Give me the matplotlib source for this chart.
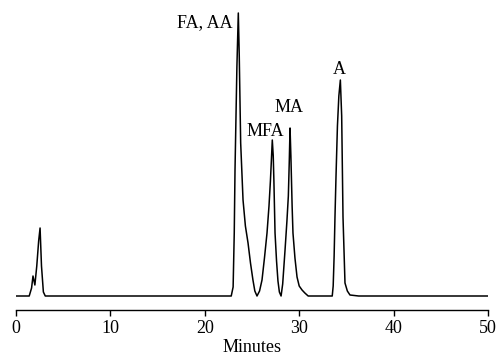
import matplotlib
matplotlib.use("Agg")
import matplotlib.pyplot as plt

# Trace (minutes, detector response in arbitrary units)
minutes = [0.0, 1.4, 1.65, 1.8, 2.0, 2.2, 2.4, 2.55, 2.7, 2.9, 3.1,
           22.8, 23.0, 23.12, 23.2, 23.4, 23.55, 23.65, 23.8, 24.05, 24.3, 24.58,
           24.84, 25.1, 25.3, 25.53,
           25.8, 26.06, 26.32, 26.59, 26.8, 26.95, 27.05, 27.15, 27.25, 27.32,
           27.44, 27.6, 27.75, 27.9, 28.08,
           28.25, 28.5, 28.7, 28.85, 28.95, 29.03, 29.12, 29.25, 29.34, 29.55,
           29.77, 30.0, 30.3, 30.6, 30.95,
           33.5, 33.6, 33.7, 33.79, 33.9, 34.05, 34.2, 34.36, 34.5, 34.64,
           34.85, 35.1, 35.38, 36.3,
           50.0]
response = [0, 0, 8, 20, 11, 30, 55, 68, 30, 4, 0,
            0, 9, 63, 126, 229, 283, 240, 153, 96, 70, 53,
            33, 16, 5, 0,
            5, 16, 38, 63, 90, 115, 135, 156, 140, 115,
            63, 35, 15, 4, 0,
            12, 46, 75, 100, 135, 168, 140, 90, 63, 38,
            19, 10, 6, 3, 0,
            0, 10, 40, 79, 120, 170, 200, 216, 180, 79,
            13, 5, 1, 0,
            0]

# Peak labels
peak_names = ["FA, AA", "MFA", "MA", "A"]
label_x = [22.9, 26.4, 28.9, 34.3]
label_y = [273, 164, 188, 227]
label_ha = ["right", "center", "center", "center"]

plt.rcParams["font.family"] = ["Liberation Serif", "DejaVu Serif"]

fig = plt.figure(figsize=(4.99, 3.59), dpi=100)
ax = fig.add_axes([16 / 499, 49 / 359, 472 / 499, 305 / 359])

ax.plot(minutes, response, color="black", linewidth=1.1)

for name, x, y, ha in zip(peak_names, label_x, label_y, label_ha):
    ax.text(x, y, name, ha=ha, va="center", fontsize=13)

ax.set_xlim(0, 50)
ax.set_ylim(-14, 291)
ax.set_xticks([0, 10, 20, 30, 40, 50])
ax.tick_params(axis="x", direction="out", length=4, width=1, pad=3, labelsize=13)
ax.set_yticks([])
for side in ["left", "right", "top"]:
    ax.spines[side].set_visible(False)
ax.spines["bottom"].set_linewidth(1)
ax.set_xlabel("Minutes", fontsize=13, labelpad=2)

fig.savefig("out.png", dpi=100)
